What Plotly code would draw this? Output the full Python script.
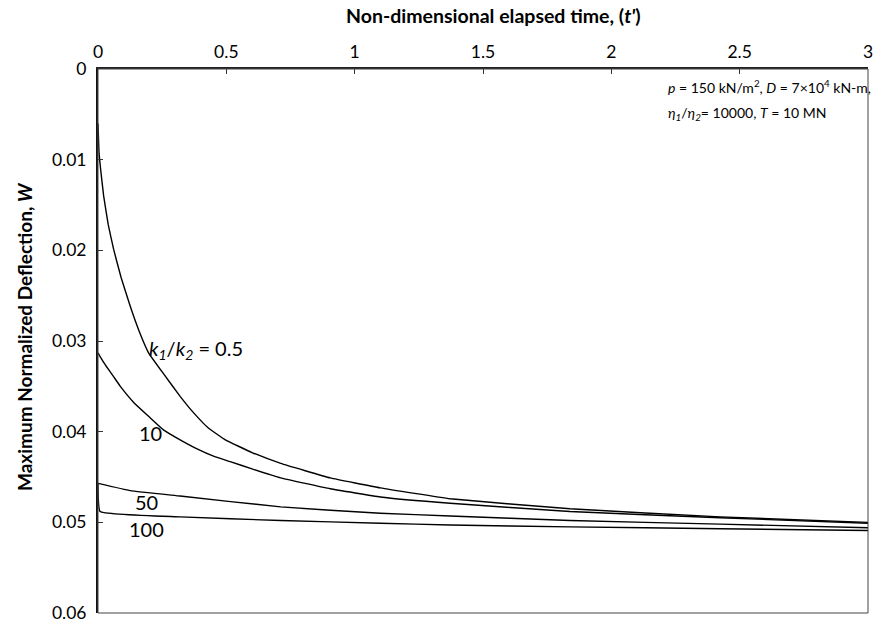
import plotly.graph_objects as go

# ---- data ----
t_05 = [0, 0.004, 0.01, 0.022, 0.04, 0.061, 0.09, 0.126, 0.16, 0.197, 0.255, 0.32, 0.372,
        0.43, 0.496, 0.6, 0.712, 0.905, 1.1, 1.372, 1.839, 2.424, 3.0]
w_05 = [0.0060, 0.0092, 0.0110, 0.0140, 0.0172, 0.0199, 0.0230, 0.0262, 0.0289, 0.0313,
        0.0336, 0.0361, 0.0379, 0.0396, 0.0409, 0.0423, 0.0435, 0.0451, 0.0462, 0.0474,
        0.0485, 0.0494, 0.0500]

t_10 = [0, 0.01, 0.03, 0.06, 0.087, 0.14, 0.197, 0.255, 0.32, 0.386, 0.45, 0.515, 0.6,
        0.712, 0.905, 1.1, 1.372, 1.839, 2.424, 3.0]
w_10 = [0.0313, 0.0318, 0.0327, 0.0339, 0.0350, 0.0368, 0.0383, 0.0398, 0.0409, 0.0419,
        0.0427, 0.0433, 0.0441, 0.0451, 0.0463, 0.0472, 0.0479, 0.0488, 0.0495, 0.0501]

t_50 = [0, 0.126, 0.32, 0.712, 1.1, 1.372, 1.839, 2.424, 3.0]
w_50 = [0.0457, 0.0465, 0.0471, 0.0483, 0.0490, 0.0493, 0.0498, 0.0502, 0.0506]

t_100 = [0, 0.008, 0.32, 0.712, 1.1, 1.372, 1.839, 2.424, 3.0]
w_100 = [0.0457, 0.0488, 0.0494, 0.0498, 0.0501, 0.0503, 0.0505, 0.0507, 0.0509]

x_ticks = [0, 0.5, 1, 1.5, 2, 2.5, 3]
x_tick_text = ["0", "0.5", "1", "1.5", "2", "2.5", "3"]
y_ticks = [0, 0.01, 0.02, 0.03, 0.04, 0.05, 0.06]
y_tick_text = ["0", "0.01", "0.02", "0.03", "0.04", "0.05", "0.06"]

curve_labels = ["<i>k<sub>1</sub></i>/<i>k<sub>2</sub></i> = 0.5", "10", "50", "100"]
label_pos = [(0.191, 0.0309, "left"), (0.204, 0.0402, "center"),
             (0.19, 0.0478, "center"), (0.188, 0.0507, "center")]

FONT = "Lato, 'Open Sans', sans-serif"

fig = go.Figure()
for t, w in [(t_05, w_05), (t_10, w_10), (t_50, w_50), (t_100, w_100)]:
    fig.add_trace(go.Scatter(x=t, y=w, mode="lines",
                             line=dict(color="black", width=1.4, shape="spline", smoothing=0.3),
                             showlegend=False, hoverinfo="skip"))

for txt, (x, y, anc) in zip(curve_labels, label_pos):
    fig.add_annotation(x=x, y=y, text=txt, showarrow=False, xanchor=anc, yanchor="middle",
                       font=dict(family=FONT, size=20, color="black"))

fig.add_annotation(x=2.212, y=0.0019, xanchor="left", yanchor="middle", showarrow=False,
                   text="<i>p</i> = 150 kN/m<sup>2</sup>, <i>D</i> = 7×10<sup>4</sup> kN-m,",
                   font=dict(family=FONT, size=14, color="black"))
fig.add_annotation(x=2.212, y=0.0049, xanchor="left", yanchor="middle", showarrow=False,
                   text="<i>η<sub>1</sub></i>/<i>η<sub>2</sub></i>= 10000, <i>T</i> = 10 MN",
                   font=dict(family=FONT, size=14, color="black"))

# axis titles
fig.add_annotation(xref="paper", yref="paper", x=0.514, y=1, yshift=54, xanchor="center",
                   yanchor="middle", showarrow=False,
                   text="<b>Non-dimensional elapsed time, (<i>t'</i>)</b>",
                   font=dict(family=FONT, size=19.5, color="black"))
fig.add_annotation(xref="paper", yref="paper", x=-0.0956, y=0.508, xanchor="center",
                   yanchor="middle", showarrow=False, textangle=-90,
                   text="<b>Maximum Normalized Deflection, <i>W</i></b>",
                   font=dict(family=FONT, size=19, color="black"))

# plot frame (right & bottom)
fig.add_shape(type="rect", xref="paper", yref="paper", x0=0, y0=0, x1=1, y1=1,
              line=dict(color="#444", width=1))

fig.update_layout(
    width=875, height=623,
    margin=dict(l=98, r=7, t=69, b=10),
    paper_bgcolor="white", plot_bgcolor="white",
    font=dict(family=FONT, size=17.5, color="black"),
    xaxis=dict(side="top", range=[0, 3], tickvals=x_ticks, ticktext=x_tick_text,
               ticks="inside", ticklen=5, tickcolor="#333", showgrid=False, zeroline=False,
               showline=True, linecolor="#222", linewidth=2, ticklabelstandoff=2,
               automargin=False, ticklabeloverflow="allow"),
    yaxis=dict(range=[0.06, 0], tickvals=y_ticks, ticktext=y_tick_text,
               ticks="inside", ticklen=5, tickcolor="#333", showgrid=False, zeroline=False,
               showline=True, linecolor="#111", linewidth=2, ticklabelstandoff=6,
               automargin=False, ticklabeloverflow="allow"),
)

fig.write_html("out.html", config={"displayModeBar": False},
               post_script="document.body.style.margin='0';document.body.style.overflow='hidden';")
